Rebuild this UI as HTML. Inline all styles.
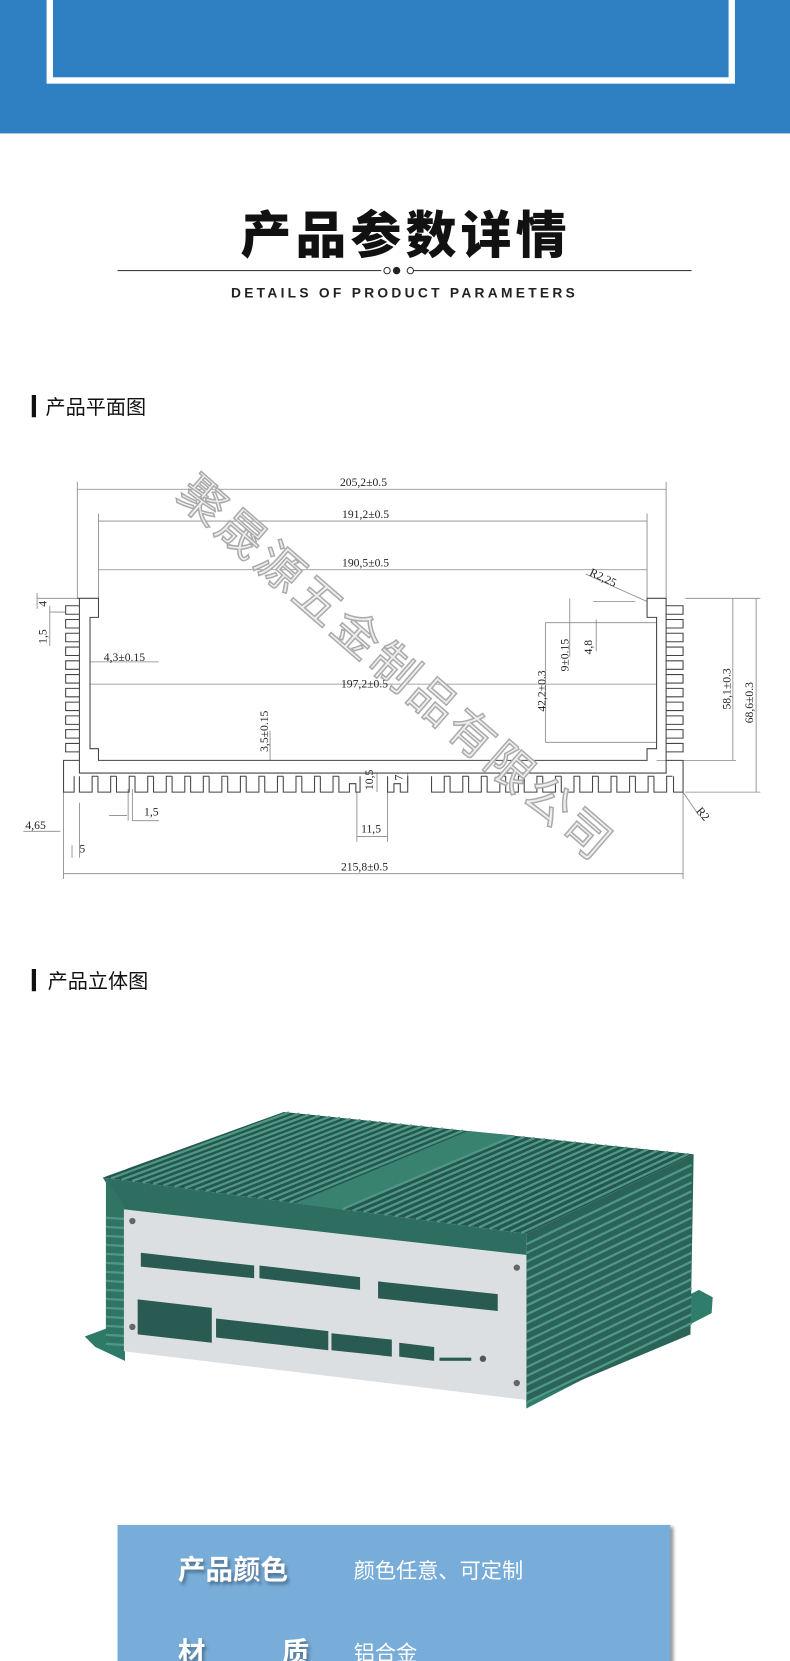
<!DOCTYPE html>
<html><head><meta charset="utf-8">
<style>
html,body{margin:0;padding:0;background:#fff;overflow:hidden}
#w{width:746px;height:1568px;position:relative;transform:scale(1.0590);transform-origin:0 0;font-family:"Liberation Sans","Noto Sans CJK SC",sans-serif}
.a{position:absolute}
</style></head><body><div id="w">
<div class="a" style="left:0;top:0;width:746px;height:126px;background:#2f80c2"></div>
<div class="a" style="left:44px;top:-6px;width:638px;height:73px;border:6px solid #fff;background:#2f80c2"></div>
<div class="a" style="left:10px;top:183px;width:746px;text-align:center;font-size:48px;font-weight:900;letter-spacing:4px;color:#111;font-family:'Noto Sans CJK SC',sans-serif">产品参数详情</div>
<div class="a" style="left:111px;top:255px;width:542px;height:1px;background:#333"></div>
<div class="a" style="left:360px;top:251px;width:28px;height:9px;background:#fff"></div>
<div class="a" style="left:362px;top:252px;width:5px;height:5px;border:1px solid #333;border-radius:50%;background:#fff"></div>
<div class="a" style="left:371px;top:252px;width:7px;height:7px;border-radius:50%;background:#222"></div>
<div class="a" style="left:384px;top:252px;width:5px;height:5px;border:1px solid #333;border-radius:50%;background:#fff"></div>
<div class="a" style="left:9px;top:269px;width:746px;text-align:center;font-size:13px;font-weight:bold;letter-spacing:3.1px;color:#222">DETAILS OF PRODUCT PARAMETERS</div>
<div class="a" style="left:30px;top:373px;width:4px;height:21px;background:#111"></div>
<div class="a" style="left:43px;top:370px;font-size:19px;color:#111;font-family:'Noto Sans CJK SC',sans-serif">产品平面图</div>
<div class="a" style="left:30px;top:915px;width:4px;height:21px;background:#111"></div>
<div class="a" style="left:45px;top:912px;font-size:19px;color:#111;font-family:'Noto Sans CJK SC',sans-serif">产品立体图</div>

<svg class="a" style="left:0;top:0" width="746" height="1568">
<g stroke="#888" stroke-width="0.8" fill="none">
<line x1="73" y1="462" x2="629" y2="462"/><line x1="73" y1="455" x2="73" y2="565"/><line x1="629" y1="455" x2="629" y2="565"/>
<line x1="93" y1="492" x2="611" y2="492"/><line x1="93" y1="485" x2="93" y2="565"/><line x1="611" y1="485" x2="611" y2="565"/>
<line x1="93" y1="538" x2="611" y2="538"/>
<line x1="85" y1="646" x2="620" y2="646"/>
<line x1="60" y1="825" x2="645" y2="825"/><line x1="60" y1="748" x2="60" y2="830"/><line x1="645" y1="748" x2="645" y2="830"/>
<line x1="647" y1="565" x2="718" y2="565"/><line x1="647" y1="748" x2="718" y2="748"/><line x1="714" y1="565" x2="714" y2="748"/>
<line x1="692" y1="565" x2="692" y2="718"/><line x1="620" y1="718" x2="695" y2="718"/>
<line x1="538" y1="565" x2="538" y2="620"/><line x1="515" y1="588" x2="620" y2="588"/><line x1="515" y1="588" x2="515" y2="701"/><line x1="515" y1="701" x2="620" y2="701"/>
<line x1="560" y1="568" x2="600" y2="568"/><line x1="563" y1="585" x2="563" y2="615"/>
<line x1="553" y1="542" x2="611" y2="568"/><line x1="645" y1="748" x2="660" y2="770"/>
<line x1="255" y1="690" x2="255" y2="718"/>
<line x1="85" y1="625" x2="150" y2="625"/>
<line x1="22" y1="785" x2="57" y2="785"/><line x1="68" y1="798" x2="68" y2="810"/><line x1="75" y1="758" x2="75" y2="810"/>
<line x1="103" y1="770" x2="120" y2="770"/><line x1="121" y1="745" x2="121" y2="775"/><line x1="125" y1="745" x2="125" y2="775"/><line x1="125" y1="775" x2="150" y2="775"/>
<line x1="337" y1="790" x2="366" y2="790"/><line x1="337" y1="748" x2="337" y2="795"/><line x1="366" y1="748" x2="366" y2="795"/>
<line x1="35" y1="560" x2="35" y2="575"/><line x1="35" y1="565" x2="73" y2="565"/><line x1="47" y1="578" x2="62" y2="578"/><line x1="47" y1="572" x2="47" y2="610"/>
<line x1="356" y1="730" x2="356" y2="748"/><line x1="385" y1="730" x2="385" y2="742"/>
</g>
<g stroke="#444" stroke-width="1" fill="none" id="body">
<path d="M73 565 H93 V583 H85 V707 H93 V718 H611 V707 H620 V583 H611 V565 H629 V718 M75 565 V718"/>
</g>
<g font-family="Liberation Serif,serif" font-size="11" fill="#222">
<text x="321" y="459">205,2±0.5</text><text x="323" y="489">191,2±0.5</text><text x="323" y="535">190,5±0.5</text>
<text x="322" y="649">197,2±0.5</text><text x="98" y="624">4,3±0.15</text>
<text x="322" y="822">215,8±0.5</text><text x="24" y="783">4,65</text><text x="75" y="805">5</text><text x="136" y="770">1,5</text><text x="341" y="786">11,5</text>
<text x="556" y="543" transform="rotate(25 556 543)">R2,25</text><text x="657" y="766" transform="rotate(50 657 766)">R2</text>
<text transform="translate(44 573) rotate(-90)">4</text>
<text transform="translate(44 608) rotate(-90)">1,5</text>
<text transform="translate(253 710) rotate(-90)">3,5±0.15</text>
<text transform="translate(515 672) rotate(-90)">42,2±0.3</text>
<text transform="translate(537 634) rotate(-90)">9±0.15</text>
<text transform="translate(559 618) rotate(-90)">4,8</text>
<text transform="translate(690 670) rotate(-90)">58,1±0.3</text>
<text transform="translate(711 683) rotate(-90)">68,6±0.3</text>
<text transform="translate(352 746) rotate(-90)">10,5</text>
<text transform="translate(380 737) rotate(-90)">7</text>
</g>
<text x="165" y="470" transform="rotate(41 165 470)" font-size="44" fill="#eee" stroke="#aaa" stroke-width="1.4" letter-spacing="4" font-family="Noto Sans CJK SC,sans-serif">聚晟源五金制品有限公司</text>

<!-- 3D product -->
<polygon points="80,1262 118,1248 118,1285 90,1272" fill="#2d7a68"/>
<polygon points="497,1300 660,1218 673,1225 672,1240 497,1330" fill="#2f7d6b"/>
<polygon points="97,1112 268,1050 655,1090 497,1165" fill="#24574d"/>
<polygon points="97,1112 497,1165 497,1188 117,1142" fill="#2e6e61"/>
<polygon points="497,1165 655,1090 652,1260 497,1325" fill="#2a6357"/>
<polygon points="100,1112 118,1140 118,1275 100,1265" fill="#2f7465"/>
<polygon points="279,1136 322,1142 485,1072 442,1068" fill="#3a8270"/>
<g id="fins" stroke="#4f9785" stroke-width="2.2"></g>
<polygon points="117,1142 497,1185 497,1322 117,1276" fill="#dcdfe2"/>
<g fill="#2a5b52">
<polygon points="133,1183 213,1192 240,1195 240,1207 133,1196"/>
<polygon points="245,1195 340,1206 340,1218 245,1207"/>
<polygon points="357,1210 470,1222 470,1238 357,1226"/>
<polygon points="130,1227 200,1235 200,1268 130,1260"/>
<polygon points="204,1245 310,1257 310,1275 204,1263"/>
<polygon points="313,1259 370,1265 370,1281 313,1275"/>
<polygon points="377,1268 410,1272 410,1285 377,1281"/>
<rect x="415" y="1282" width="30" height="3"/>
</g>
<circle cx="456" cy="1283" r="3" fill="#555"/>
<g fill="#666"><circle cx="125" cy="1153" r="3"/><circle cx="488" cy="1197" r="3"/><circle cx="125" cy="1253" r="3"/><circle cx="488" cy="1306" r="3"/></g>
</svg>
<script>
(function(){
var ns="http://www.w3.org/2000/svg",b=document.getElementById('body');
function P(d){var p=document.createElementNS(ns,'path');p.setAttribute('d',d);b.appendChild(p);}
for(var y=572;y<712;y+=13){P('M75 '+y+' H62 V'+(y+8)+' H75');P('M629 '+y+' H645 V'+(y+8)+' H629');}
P('M75 718 H60 V748 H70 V733');P('M629 718 H645 V748 H636 V733');
P('M75 718 V730 H629 V718');
for(var x=75;x<630;x+=17.5){ if(x>318&&x<392){continue;} P('M'+x+' 733 V748 H'+(x+12)+' V733 H'+(x+17.5));}
P('M320 733 V748 H330 V740 H336 V748 H340 V733 M366 733 V748 H372 V740 H378 V748 H385 V733');
var f=document.getElementById('fins');
function L(a,b2,c,d){var l=document.createElementNS(ns,'line');l.setAttribute('x1',a);l.setAttribute('y1',b2);l.setAttribute('x2',c);l.setAttribute('y2',d);f.appendChild(l);}
for(var i=0;i<40;i++){var t=(i+0.5)/40;if(t>0.45&&t<0.56)continue;L(100+t*397,1112+t*53,268+t*387,1050+t*40);}
for(var j=0;j<19;j++){var yy=1175+j*8.3;L(497,yy,653,yy-75);}
for(var k=0;k<15;k++){var yy=1150+k*8.5;L(100,yy,117,yy+1);}
})();
</script>
<div class="a" style="left:111px;top:1440px;width:522px;height:140px;background:#78acd9;box-shadow:3px 2px 3px #999"></div>
<div class="a" style="left:168px;top:1462px;font-size:26px;font-weight:bold;color:#fff;text-shadow:2px 3px 3px rgba(0,0,0,.35);font-family:'Noto Sans CJK SC',sans-serif">产品颜色</div>
<div class="a" style="left:334px;top:1467px;font-size:20px;color:#fff;font-family:'Noto Sans CJK SC',sans-serif">颜色任意、可定制</div>
<div class="a" style="left:168px;top:1540px;font-size:26px;font-weight:bold;color:#fff;text-shadow:2px 3px 3px rgba(0,0,0,.35);font-family:'Noto Sans CJK SC',sans-serif">材<span style="display:inline-block;width:72px"></span>质</div>
<div class="a" style="left:334px;top:1545px;font-size:20px;color:#fff;font-family:'Noto Sans CJK SC',sans-serif">铝合金</div>
</div></body></html>
